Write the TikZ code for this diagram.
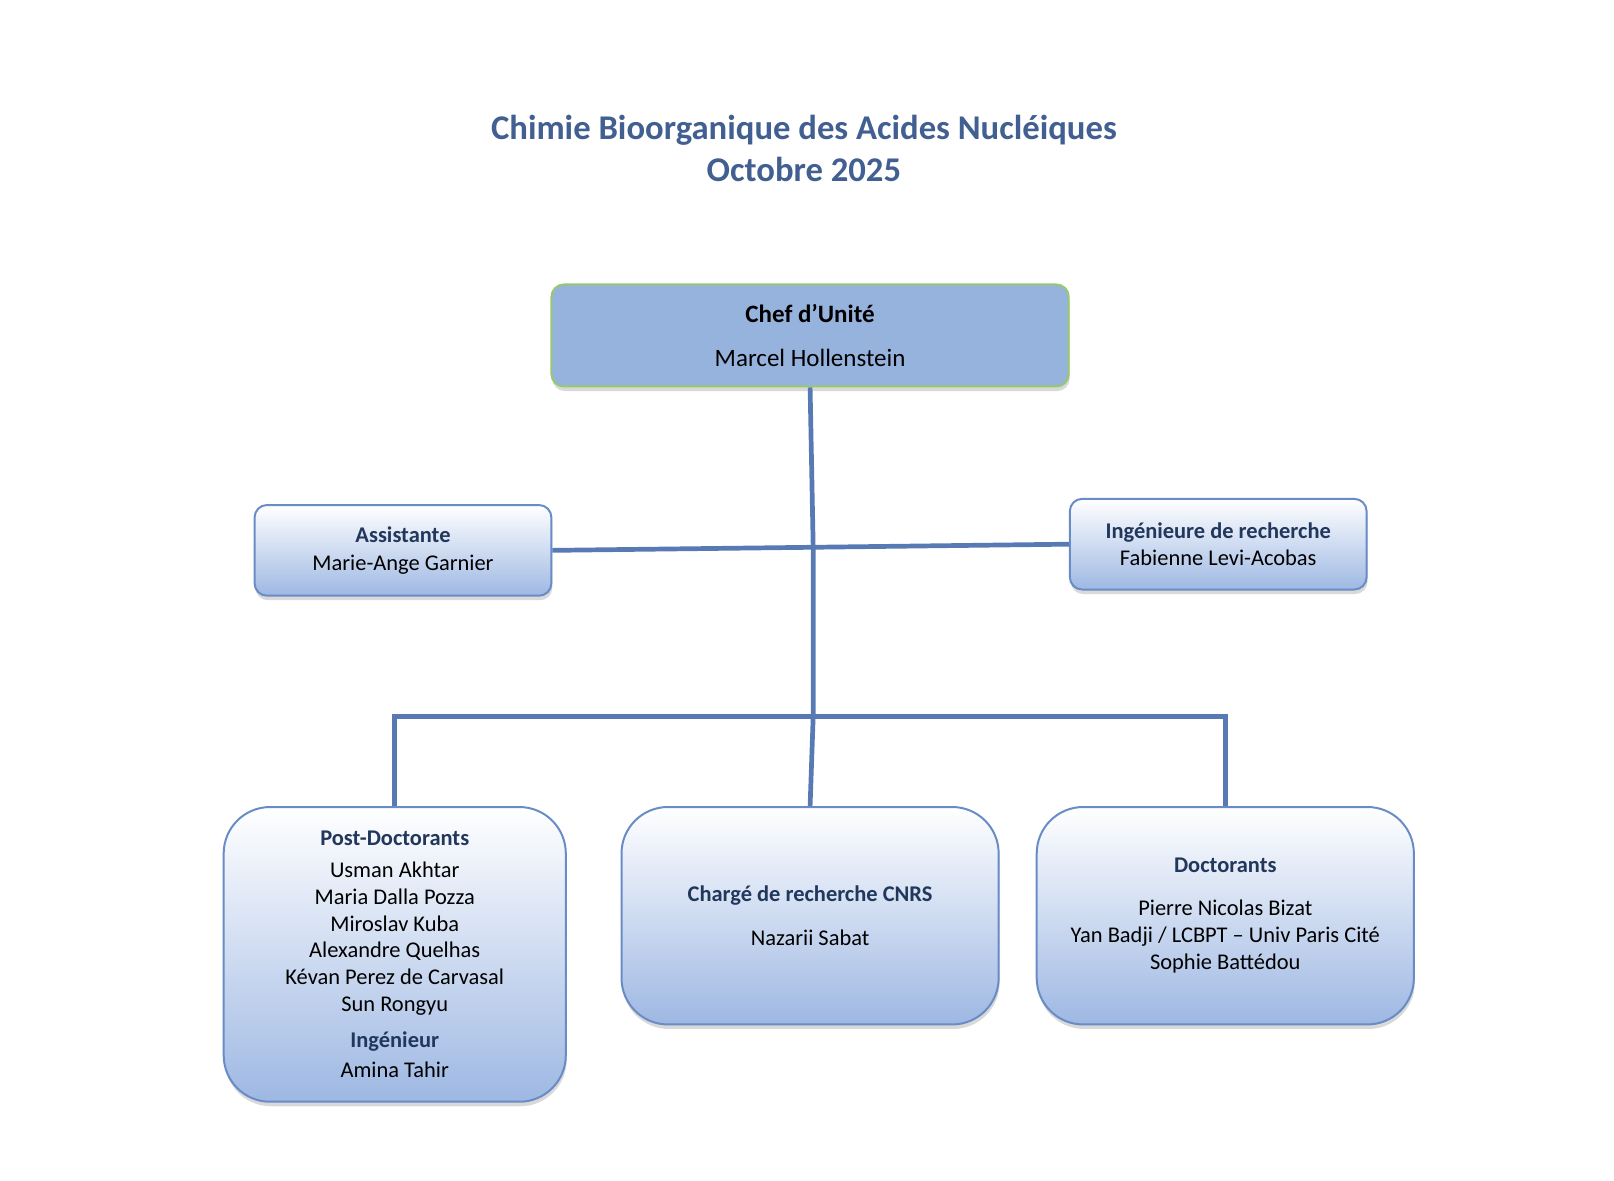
\documentclass[tikz,border=0pt]{standalone}
\usepackage{fontspec}
\setmainfont{Carlito}
\usetikzlibrary{positioning,shadows}
\definecolor{titleblue}{RGB}{65,95,145}
\definecolor{headnavy}{RGB}{33,55,92}
\definecolor{chefblue}{RGB}{150,179,222}
\definecolor{chefgreen}{RGB}{150,200,110}
\definecolor{boxline}{RGB}{105,140,198}
\definecolor{boxbottom}{RGB}{158,184,227}
\definecolor{linkblue}{RGB}{88,122,180}
\newcommand{\rolename}[1]{{\bfseries\color{headnavy}#1}}

\begin{document}
\begin{tikzpicture}[x=0.02cm, y=-0.02cm,
  every node/.style={font=\fontsize{12.4}{14.8}\selectfont, align=center},
  box/.style={rectangle, rounded corners=0.24cm, draw=boxline, line width=1.1pt,
    top color=white, bottom color=boxbottom, inner sep=0pt,
    drop shadow={opacity=0.3, shadow xshift=0.5pt, shadow yshift=-2.5pt}},
  bigbox/.style={box, rounded corners=0.9cm, minimum width=7.32cm, minimum height=4.22cm},
  link/.style={draw=linkblue, line width=2.6pt, line join=miter}]
  \useasboundingbox (0,0) rectangle (1566,1145);

  % titre
  \node[font=\fontsize{19.15}{22.7}\selectfont\bfseries, text=titleblue] (title) at (780,144)
    {Chimie Bioorganique des Acides Nucléiques\\Octobre 2025};

  % direction
  \node[rectangle, rounded corners=0.24cm, draw=chefgreen, line width=1.1pt, fill=chefblue,
    minimum width=10.04cm, minimum height=1.98cm, font=\fontsize{13.8}{15.5}\selectfont,
    drop shadow={opacity=0.3, shadow xshift=0.5pt, shadow yshift=-2.5pt}] (chef) at (786,325.5)
    {\textbf{Chef d’Unité}\\[8.9pt]Marcel Hollenstein};

  \node[box, minimum width=5.76cm, minimum height=1.76cm] (assist) at (391,534)
    {\rolename{Assistante}\\[0.5pt]Marie-Ange Garnier};
  \node[box, minimum width=5.76cm, minimum height=1.76cm] (inge) at (1182,528)
    {\rolename{Ingénieure de recherche}\\[0.5pt]Fabienne Levi-Acobas};

  % equipe
  \node[bigbox] (charge) at (786,888.5)
    {\rolename{Chargé de recherche CNRS}\\[9pt]Nazarii Sabat};
  \node[bigbox] (doct) [right=0.7cm of charge]
    {\rolename{Doctorants}\\[9pt]Pierre Nicolas Bizat\\Yan Badji / LCBPT – Univ Paris Cité\\Sophie Battédou};
  \node[bigbox, minimum width=6.64cm, minimum height=5.72cm] (postdoc) at (383,926)
    {\rolename{Post-Doctorants}\\[3pt]Usman Akhtar\\Maria Dalla Pozza\\Miroslav Kuba\\Alexandre Quelhas\\Kévan Perez de Carvasal\\Sun Rongyu\\[5pt]\rolename{Ingénieur}\\[2pt]Amina Tahir};

  \coordinate (hub) at (789,531);
  \coordinate (bar) at (789,695);

  \draw[link] (chef.south) -- (hub) -- (bar) -- (charge.north);
  \draw[link] (assist.east) -- (hub) -- (inge.west);
  \draw[link] (postdoc.north) |- (bar) -| (doct.north);
\end{tikzpicture}
\end{document}
